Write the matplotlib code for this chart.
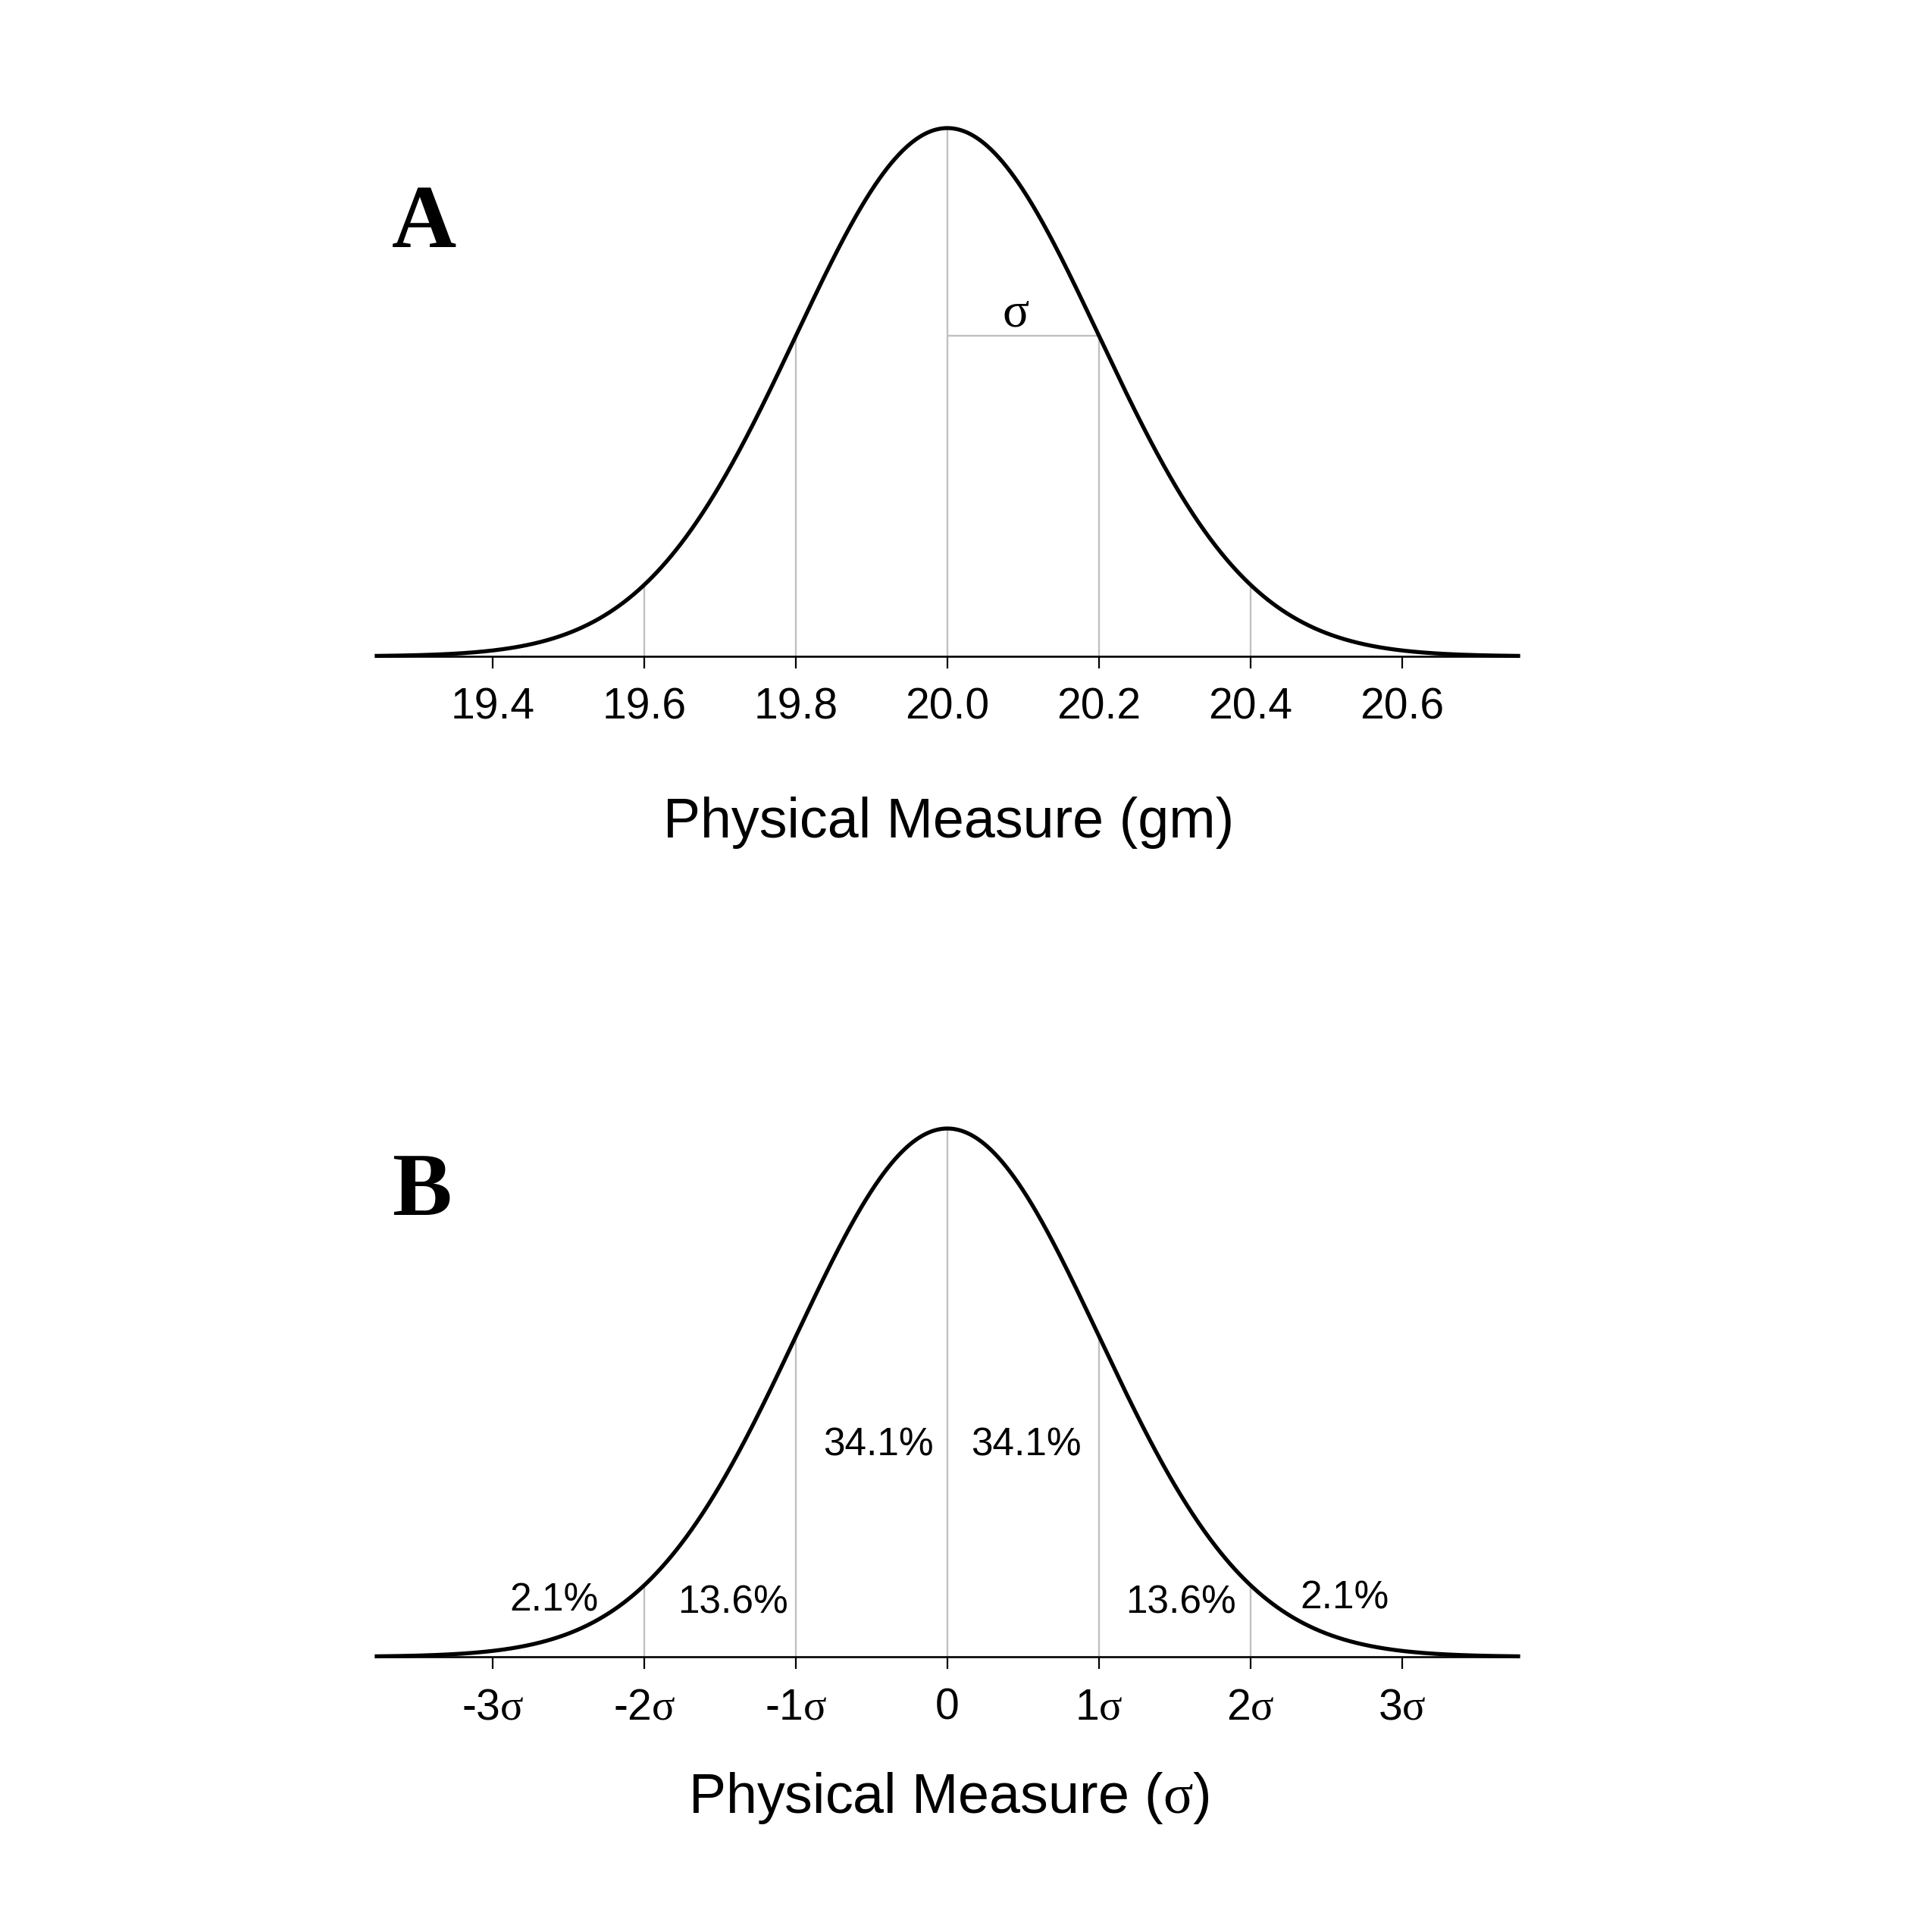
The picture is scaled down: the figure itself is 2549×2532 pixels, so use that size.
import numpy as np
import matplotlib
matplotlib.use("Agg")
import matplotlib.pyplot as plt

plt.rcParams['font.family'] = ['Liberation Sans', 'DejaVu Sans']
plt.rcParams['mathtext.fontset'] = 'custom'
plt.rcParams['mathtext.rm'] = 'Liberation Serif'
plt.rcParams['mathtext.it'] = 'Liberation Serif:italic'
plt.rcParams['mathtext.bf'] = 'Liberation Serif:bold'

# ---------------- data ----------------
mean_gm = 20.0
sd_gm = 0.2
ticks_gm = [19.4, 19.6, 19.8, 20.0, 20.2, 20.4, 20.6]
ticklabels_gm = ["19.4", "19.6", "19.8", "20.0", "20.2", "20.4", "20.6"]
guides_gm = [19.6, 19.8, 20.0, 20.2, 20.4]

ticks_sigma = [-3, -2, -1, 0, 1, 2, 3]
ticklabels_sigma = ["-3$\\mathrm{σ}$", "-2$\\mathrm{σ}$", "-1$\\mathrm{σ}$", "0",
                    "1$\\mathrm{σ}$", "2$\\mathrm{σ}$", "3$\\mathrm{σ}$"]
guides_sigma = [-2, -1, 0, 1, 2]
band_pct = ["2.1%", "13.6%", "34.1%", "34.1%", "13.6%", "2.1%"]

# ---------------- layout ----------------
span_sigma = 3.765
band_x_sigma = [-2.595, -1.415, -0.455, 0.52, 1.54, 2.62]
band_y_frac = [0.0861, 0.0832, 0.3816, 0.3816, 0.0832, 0.0918]

W, H = 2549, 2532
fig = plt.figure(figsize=(W / 100, H / 100), dpi=100)


def axes_px(left, right, top, bottom):
    return fig.add_axes([left / W, 1 - bottom / H, (right - left) / W, (bottom - top) / H])


def normal_pdf(x, m, s):
    x = np.asarray(x, dtype=float)
    return np.exp(-0.5 * ((x - m) / s) ** 2) / (s * np.sqrt(2 * np.pi))


GRAY = '#c0c0c0'


def style(ax, m, s, ticks, labels):
    peak = normal_pdf(m, m, s)
    ax.set_xlim(m - span_sigma * s, m + span_sigma * s)
    ax.set_ylim(0, peak)
    for sp in ['top', 'left', 'right']:
        ax.spines[sp].set_visible(False)
    ax.spines['bottom'].set_linewidth(1.9)
    ax.spines['bottom'].set_color('black')
    ax.set_yticks([])
    ax.set_xticks(ticks)
    ax.set_xticklabels(labels)
    ax.tick_params(axis='x', length=11.5, width=1.6, direction='out', pad=18,
                   labelsize=41, colors='black')
    ax.patch.set_alpha(0)
    x = np.linspace(m - span_sigma * s, m + span_sigma * s, 1201)
    ax.plot(x, normal_pdf(x, m, s), color='black', lw=3.8, clip_on=False, zorder=3)
    return peak


# Panel A
axA = axes_px(497, 2003, 169, 866)
peakA = style(axA, mean_gm, sd_gm, ticks_gm, ticklabels_gm)
axA.vlines(guides_gm, 0, normal_pdf(guides_gm, mean_gm, sd_gm), color=GRAY, lw=1.7, zorder=2)
axA.hlines(normal_pdf(mean_gm + sd_gm, mean_gm, sd_gm), mean_gm, mean_gm + sd_gm,
           color=GRAY, lw=1.7, zorder=2)
axA.text(mean_gm + 0.45 * sd_gm, 0.6255 * peakA, "σ", ha='center', va='baseline',
         fontsize=47, family='Liberation Serif')

# Panel B
axB = axes_px(497, 2003, 1489, 2186)
peakB = style(axB, 0.0, 1.0, ticks_sigma, ticklabels_sigma)
axB.vlines(guides_sigma, 0, normal_pdf(guides_sigma, 0.0, 1.0), color=GRAY, lw=1.7, zorder=2)
for xs, yf, lab in zip(band_x_sigma, band_y_frac, band_pct):
    axB.text(xs, yf * peakB, lab, ha='center', va='baseline', fontsize=37)

# Panel letters
fig.text(560 / W, 1 - 326 / H, "A", ha='center', va='baseline', fontsize=85,
         fontweight='bold', family='Liberation Serif')
fig.text(556 / W, 1 - 1603 / H, "B", ha='center', va='baseline', fontsize=85,
         fontweight='bold', family='Liberation Serif')

# Axis titles
fig.text(1252 / W, 1 - 1105 / H, "Physical Measure (gm)", ha='center', va='baseline', fontsize=53)
fig.text(1252 / W, 1 - 2392 / H, "Physical Measure ($\\mathrm{σ}$)", ha='center', va='baseline',
         fontsize=53)

fig.savefig('out.png', dpi=100, facecolor='white')
